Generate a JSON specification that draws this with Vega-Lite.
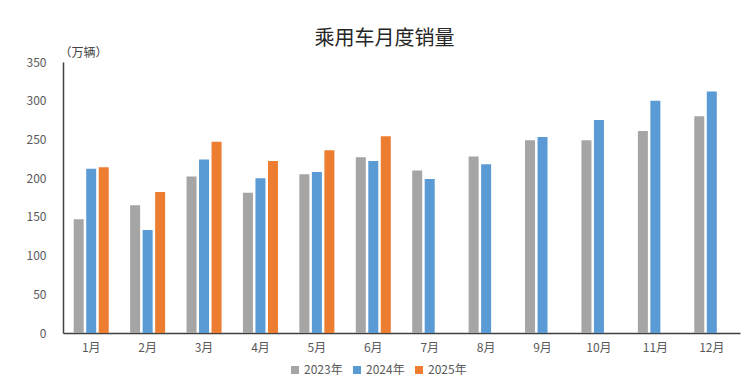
{
  "$schema": "https://vega.github.io/schema/vega-lite/v6.json",
  "width": 677,
  "height": 271,
  "autosize": {"type": "none"},
  "padding": {"left": 63, "top": 62, "right": 6, "bottom": 52},
  "background": "white",
  "config": {
    "font": "Noto Sans CJK SC",
    "view": {"stroke": null}
  },
  "title": {
    "text": "乘用车月度销量",
    "fontSize": 20,
    "fontWeight": "normal",
    "color": "#262626",
    "anchor": "middle",
    "dx": -17,
    "offset": -3,
    "font": "Noto Sans CJK SC"
  },
  "data": {
    "values": [
      {"month": "1月", "year": "2023年", "sales": 147},
      {"month": "1月", "year": "2024年", "sales": 212},
      {"month": "1月", "year": "2025年", "sales": 214},
      {"month": "2月", "year": "2023年", "sales": 165},
      {"month": "2月", "year": "2024年", "sales": 133},
      {"month": "2月", "year": "2025年", "sales": 182},
      {"month": "3月", "year": "2023年", "sales": 202},
      {"month": "3月", "year": "2024年", "sales": 224},
      {"month": "3月", "year": "2025年", "sales": 247},
      {"month": "4月", "year": "2023年", "sales": 181},
      {"month": "4月", "year": "2024年", "sales": 200},
      {"month": "4月", "year": "2025年", "sales": 222},
      {"month": "5月", "year": "2023年", "sales": 205},
      {"month": "5月", "year": "2024年", "sales": 208},
      {"month": "5月", "year": "2025年", "sales": 236},
      {"month": "6月", "year": "2023年", "sales": 227},
      {"month": "6月", "year": "2024年", "sales": 222},
      {"month": "6月", "year": "2025年", "sales": 254},
      {"month": "7月", "year": "2023年", "sales": 210},
      {"month": "7月", "year": "2024年", "sales": 199},
      {"month": "8月", "year": "2023年", "sales": 228},
      {"month": "8月", "year": "2024年", "sales": 218},
      {"month": "9月", "year": "2023年", "sales": 249},
      {"month": "9月", "year": "2024年", "sales": 253},
      {"month": "10月", "year": "2023年", "sales": 249},
      {"month": "10月", "year": "2024年", "sales": 275},
      {"month": "11月", "year": "2023年", "sales": 261},
      {"month": "11月", "year": "2024年", "sales": 300},
      {"month": "12月", "year": "2023年", "sales": 280},
      {"month": "12月", "year": "2024年", "sales": 312}
    ]
  },
  "mark": {"type": "bar"},
  "encoding": {
    "x": {
      "field": "month",
      "type": "nominal",
      "sort": ["1月","2月","3月","4月","5月","6月","7月","8月","9月","10月","11月","12月"],
      "scale": {"paddingInner": 0.335, "paddingOuter": 0.1675},
      "axis": {
        "title": null,
        "labelAngle": 0,
        "ticks": false,
        "labelPadding": 9,
        "labelFontSize": 12,
        "labelColor": "#595959",
        "domainColor": "#404040",
        "domainWidth": 1.5
      }
    },
    "xOffset": {
      "field": "year",
      "type": "nominal",
      "scale": {"domain": ["2023年","2024年","2025年"], "paddingInner": 0.2, "paddingOuter": 0.1}
    },
    "y": {
      "field": "sales",
      "type": "quantitative",
      "scale": {"domain": [0, 350], "nice": false},
      "axis": {
        "values": [0, 50, 100, 150, 200, 250, 300, 350],
        "grid": false,
        "ticks": false,
        "labelPadding": 17,
        "labelFontSize": 12,
        "labelColor": "#595959",
        "domainColor": "#404040",
        "domainWidth": 1.5,
        "title": "（万辆）",
        "titleAngle": 0,
        "titleX": -4,
        "titleY": -10,
        "titleAlign": "left",
        "titleBaseline": "middle",
        "titleFontSize": 12,
        "titleFontWeight": "normal",
        "titleColor": "#404040"
      }
    },
    "color": {
      "field": "year",
      "type": "nominal",
      "scale": {"domain": ["2023年","2024年","2025年"], "range": ["#A5A5A5","#5B9BD5","#ED7D31"]},
      "legend": {
        "title": null,
        "orient": "none",
        "direction": "horizontal",
        "legendX": 226,
        "legendY": 302,
        "symbolType": "square",
        "symbolSize": 64,
        "symbolOpacity": 1,
        "labelFontSize": 12,
        "labelColor": "#595959",
        "labelOffset": 3,
        "columnPadding": 8
      }
    }
  }
}
